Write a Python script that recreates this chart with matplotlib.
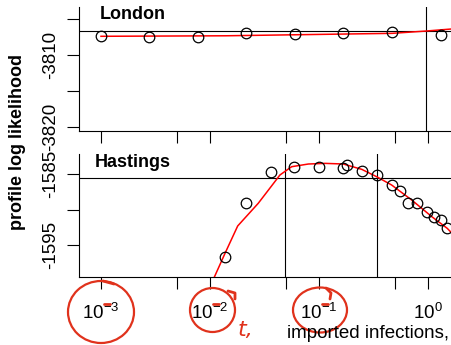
import matplotlib
matplotlib.use("Agg")
import matplotlib.pyplot as plt
from matplotlib.lines import Line2D
from matplotlib.patches import Ellipse
from matplotlib.ticker import FixedLocator, FixedFormatter, NullLocator
from matplotlib.transforms import Affine2D

# profile likelihood over the imported-infection rate, two cities
london_iota = [0.001, 0.00275, 0.00776, 0.0214, 0.0603, 0.166, 0.468, 1.315]
london_ll = [-3807.36, -3807.46, -3807.46, -3806.99, -3807.13, -3806.99, -3806.85, -3807.22]
london_fit_iota = [0.001, 0.0139, 0.468, 0.96, 1.63, 2.43]
london_fit_ll = [-3807.40, -3807.33, -3806.99, -3806.67, -3806.39, -3806.2]
london_cutoff = -3806.67
london_ci = [0.96]

hastings_iota = [0.01374, 0.02138, 0.0363, 0.059, 0.1, 0.166, 0.181, 0.248, 0.340,
                 0.468, 0.553, 0.656, 0.793, 0.98, 1.135, 1.315, 1.49]
hastings_ll = [-1596.69, -1589.08, -1584.72, -1584.01, -1584.01, -1584.15, -1583.73,
               -1584.58, -1585.14, -1586.55, -1587.39, -1589.08, -1589.08, -1590.35,
               -1591.05, -1591.48, -1592.6]
hastings_fit_iota = [0.0104, 0.01374, 0.01795, 0.0277, 0.0363, 0.0438, 0.0561, 0.0799,
                     0.1135, 0.167, 0.2465, 0.338, 0.464, 0.708, 1.082, 1.50, 1.8]
hastings_fit_ll = [-1600.3, -1596.17, -1592.32, -1589.13, -1586.78, -1585.14, -1583.97,
                   -1583.59, -1583.5, -1583.59, -1584.34, -1585.38, -1586.55, -1588.66,
                   -1591.0, -1592.65, -1593.9]
hastings_cutoff = -1585.56
hastings_ci = [0.0488, 0.34]

x_ticks = [1e-3, 5e-3, 1e-2, 5e-2, 1e-1, 5e-1, 1, 5]
x_ticklabels = [r'$\mathregular{10^{-3}}$', '', r'$\mathregular{10^{-2}}$', '',
                r'$\mathregular{10^{-1}}$', '', r'$\mathregular{10^{0}}$', '']
london_yticks = [-3820, -3815, -3810, -3805]
london_yticklabels = ['-3820', '', '-3810', '']
hastings_yticks = [-1595, -1590, -1585]
hastings_yticklabels = ['-1595', '', '-1585']

plt.rcParams['font.family'] = ['Liberation Sans', 'DejaVu Sans']
plt.rcParams['mathtext.default'] = 'regular'

W, H = 451, 345
fig = plt.figure(figsize=(W / 100, H / 100), dpi=100)
# helper: figure pixels measured from the top-left corner
px = Affine2D().scale(1 / W, -1 / H).translate(0, 1) + fig.transFigure


def panel(top, bottom, ylim):
    ax = fig.add_axes([79 / W, 1 - bottom / H, 391 / W, (bottom - top) / H])
    ax.set_xscale('log')
    ax.set_xlim(10 ** -3.2018, 10 ** 0.3853)
    ax.set_ylim(*ylim)
    ax.xaxis.set_major_locator(FixedLocator(x_ticks))
    ax.xaxis.set_minor_locator(NullLocator())
    for side in ['top', 'right']:
        ax.spines[side].set_visible(False)
    for side in ['left', 'bottom']:
        ax.spines[side].set_linewidth(0.8)
    ax.tick_params(direction='out', length=8.3, width=0.8)
    ax.tick_params(axis='y', labelrotation=90, pad=6)
    return ax


def draw(ax, x, y, fx, fy, cutoff, ci):
    ax.axhline(cutoff, color='black', lw=0.8)
    for v in ci:
        ax.axvline(v, color='black', lw=0.8)
    ax.plot(fx, fy, color='red', lw=1.1, zorder=3)
    ax.plot(x, y, 'o', mfc='none', mec='black', ms=7.6, mew=0.9, zorder=4)


ax1 = panel(7, 131, (-3820.56, -3803.33))
draw(ax1, london_iota, london_ll, london_fit_iota, london_fit_ll, london_cutoff, london_ci)
ax1.xaxis.set_major_formatter(FixedFormatter([''] * len(x_ticks)))
ax1.yaxis.set_major_locator(FixedLocator(london_yticks))
ax1.yaxis.set_major_formatter(FixedFormatter(london_yticklabels))

ax2 = panel(154, 277, (-1599.51, -1582.18))
draw(ax2, hastings_iota, hastings_ll, hastings_fit_iota, hastings_fit_ll, hastings_cutoff, hastings_ci)
ax2.xaxis.set_major_formatter(FixedFormatter(x_ticklabels))
ax2.yaxis.set_major_locator(FixedLocator(hastings_yticks))
ax2.yaxis.set_major_formatter(FixedFormatter(hastings_yticklabels))
ax2.tick_params(axis='x', pad=10)

for ax in (ax1, ax2):
    for lbl in ax.get_xticklabels() + ax.get_yticklabels():
        lbl.set_fontsize(13.5)
    for lbl in ax.get_yticklabels():
        lbl.set_va('center')

ax1.text(100, 19, 'London', transform=px, fontsize=13, fontweight='bold', va='baseline')
ax2.text(95, 167, 'Hastings', transform=px, fontsize=13, fontweight='bold', va='baseline')

fig.text(18 / W, 1 - 142 / H, 'profile log likelihood', rotation=90, fontsize=13,
         fontweight='bold', ha='center', va='center')
fig.text(287 / W, 1 - 338 / H, 'imported infections,', fontsize=13.5,
         ha='left', va='baseline')

# red pen marks on top of the printed figure
ink = '#e0321c'
for cx, cy, w, h in [(101, 312, 66, 62), (212.5, 310, 45, 44), (320, 310, 54, 45)]:
    fig.add_artist(Ellipse((cx, cy), w, h, transform=px, fill=False, ec=ink, lw=1.6))
strokes = [
    ([104, 110], [304, 304]),          # over the minus signs
    ([213, 219], [304, 304]),
    ([322, 328], [304, 304]),
    ([103, 114], [281, 284]),          # pen tails
    ([228, 235, 235], [291, 293, 299]),
    ([326, 331, 330], [288, 293, 299]),
]
for xs, ys in strokes:
    fig.add_artist(Line2D(xs, ys, transform=px, color=ink, lw=2.0,
                          solid_capstyle='round'))
fig.text(238 / W, 1 - 336 / H, 't,', color=ink, fontsize=16, style='italic',
         family='DejaVu Sans', va='baseline')

fig.savefig('out.png', dpi=100)
